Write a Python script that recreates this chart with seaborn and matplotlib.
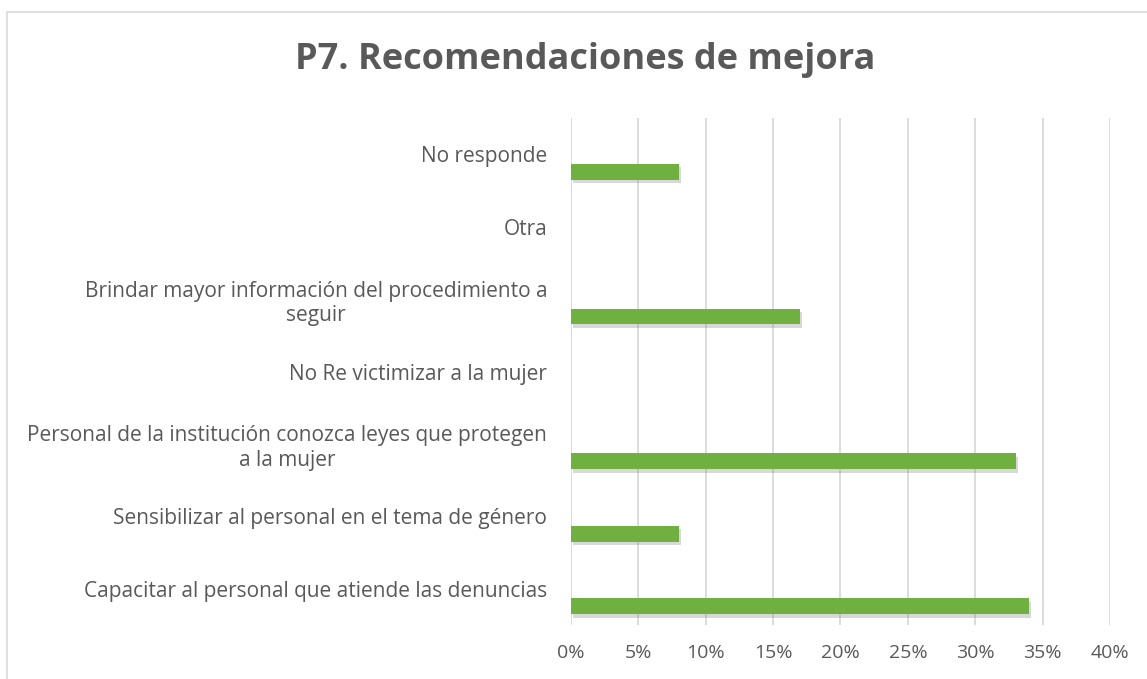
import matplotlib.pyplot as plt
import matplotlib.patheffects as pe
from matplotlib.lines import Line2D
from matplotlib.ticker import PercentFormatter
import pandas as pd
import seaborn as sns

categorias = [
    'No responde',
    'Otra',
    'Brindar mayor información del procedimiento a\nseguir',
    'No Re victimizar a la mujer',
    'Personal de la institución conozca leyes que protegen\na la mujer',
    'Sensibilizar al personal en el tema de género',
    'Capacitar al personal que atiende las denuncias',
]
porcentajes = [0.08, 0.0, 0.17, 0.0, 0.33, 0.08, 0.34]
marcas_x = [0, 0.05, 0.10, 0.15, 0.20, 0.25, 0.30, 0.35, 0.40]

verde = '#6FB040'
gris_texto = '#595959'
gris_linea = '#D9D9D9'

sns.set_style('white')
plt.rcParams['font.family'] = ['Open Sans', 'DejaVu Sans']

df = pd.DataFrame({'categoria': categorias, 'porcentaje': porcentajes})

fig = plt.figure(figsize=(11.47, 6.79), dpi=100)
ax = fig.add_axes([0.4978, 0.0795, 0.4699, 0.7467])

sns.barplot(data=df, y='categoria', x='porcentaje', orient='h', width=0.22,
            color=verde, saturation=1, ax=ax)

# Excel coloca la barra en la parte baja de cada banda
for bar in ax.patches:
    bar.set_y(bar.get_y() + 0.24)
    bar.set_linewidth(0)
    bar.set_path_effects([pe.SimplePatchShadow(offset=(1.5, -2.5), alpha=0.3,
                                               shadow_rgbFace='#808080'),
                          pe.Normal()])

ax.set_xlim(0, 0.40)
ax.set_xticks(marcas_x)
ax.xaxis.set_major_formatter(PercentFormatter(1.0, decimals=0))
ax.grid(axis='x', color=gris_linea, linewidth=1.3)
ax.set_axisbelow(True)
for s in ax.spines.values():
    s.set_visible(False)
ax.set_xlabel('')
ax.set_ylabel('')
ax.tick_params(axis='y', length=0, pad=17, labelsize=15, labelcolor=gris_texto)
ax.tick_params(axis='x', length=0, pad=14, labelsize=14, labelcolor=gris_texto)
for t in ax.get_yticklabels():
    t.set_multialignment('center')
    t.set_linespacing(1.2)

fig.text(0.51, 0.912, 'P7. Recomendaciones de mejora', ha='center', va='center',
         fontsize=26, fontweight='bold', color=gris_texto)

# marco del área del gráfico
fig.add_artist(Line2D([6.5 / 1147, 6.5 / 1147], [0, 1 - 12 / 679],
                      transform=fig.transFigure, color=gris_linea, linewidth=1.2))
fig.add_artist(Line2D([6.5 / 1147, 1], [1 - 12 / 679, 1 - 12 / 679],
                      transform=fig.transFigure, color=gris_linea, linewidth=1.2))

fig.savefig('out.png', dpi=100)
